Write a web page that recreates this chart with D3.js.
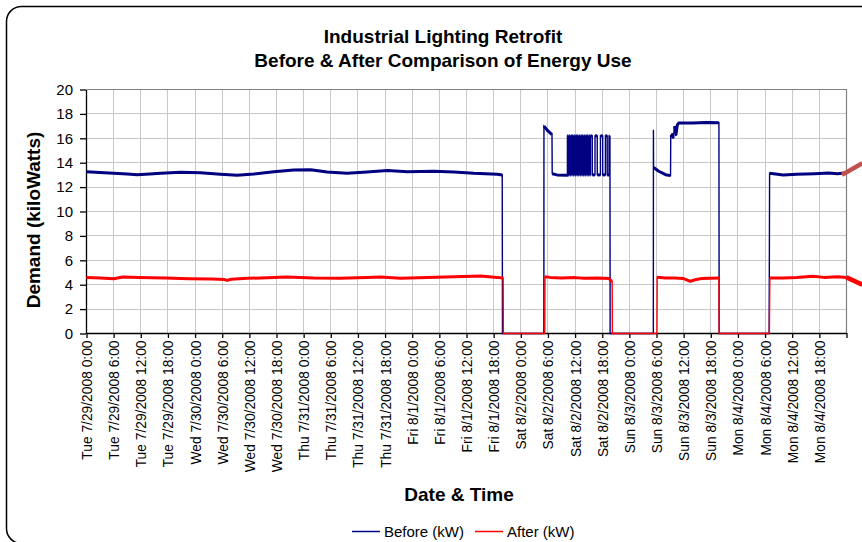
<!DOCTYPE html>
<html>
<head>
<meta charset="utf-8">
<script src="https://cdn.jsdelivr.net/npm/d3@7"></script>
<style>
  body { margin: 0; background: #fff; }
  svg { display: block; font-family: Arial, "Liberation Sans", sans-serif; }
</style>
</head>
<body>
<div id="chart"></div>
<script>
// hours are counted from Tue 7/29/2008 0:00, values in kW
var tickLabels = [
  "Tue 7/29/2008 0:00", "Tue 7/29/2008 6:00", "Tue 7/29/2008 12:00", "Tue 7/29/2008 18:00",
  "Wed 7/30/2008 0:00", "Wed 7/30/2008 6:00", "Wed 7/30/2008 12:00", "Wed 7/30/2008 18:00",
  "Thu 7/31/2008 0:00", "Thu 7/31/2008 6:00", "Thu 7/31/2008 12:00", "Thu 7/31/2008 18:00",
  "Fri 8/1/2008 0:00", "Fri 8/1/2008 6:00", "Fri 8/1/2008 12:00", "Fri 8/1/2008 18:00",
  "Sat 8/2/2008 0:00", "Sat 8/2/2008 6:00", "Sat 8/2/2008 12:00", "Sat 8/2/2008 18:00",
  "Sun 8/3/2008 0:00", "Sun 8/3/2008 6:00", "Sun 8/3/2008 12:00", "Sun 8/3/2008 18:00",
  "Mon 8/4/2008 0:00", "Mon 8/4/2008 6:00", "Mon 8/4/2008 12:00", "Mon 8/4/2008 18:00", ""
];
var tickHours = [0, 6, 12, 18, 24, 30, 36, 42, 48, 54, 60, 66, 72, 78, 84, 90, 96,
  102, 108, 114, 120, 126, 132, 138, 144, 150, 156, 162, 168];
var yTicks = [0, 2, 4, 6, 8, 10, 12, 14, 16, 18, 20];

var beforeWeekday = [
  [0, 13.26], [3, 13.2], [6, 13.13], [9, 13.08], [11.2, 13.02], [14, 13.08], [16.4, 13.13],
  [20.8, 13.21], [25.2, 13.18], [29.6, 13.05], [33.3, 12.97], [37, 13.07], [41.4, 13.26],
  [45.8, 13.4], [49.5, 13.43], [53.2, 13.24], [57.6, 13.13], [62, 13.24], [66.5, 13.37],
  [70.9, 13.26], [76.8, 13.29], [81.2, 13.24], [85.6, 13.13], [90.8, 13.05], [91.9, 13.0],
  [91.95, 0]
];
var beforeSat = [
  [101.1, 0], [101.12, 17.0], [102.0, 16.6], [102.9, 16.3], [102.95, 13.1], [104, 13.0],
  [106.3, 12.98]
];
// Saturday afternoon: load switching between two levels
var satToggles = [106.3, 106.5, 106.7, 106.85, 107.05, 107.25, 107.4, 107.6, 107.8, 107.95,
  108.15, 108.35, 108.5, 108.7, 108.9, 109.05, 109.25, 109.45, 109.6, 109.8, 110.0, 110.15,
  110.35, 110.55, 110.7, 110.9, 111.1, 111.25, 111.4, 111.8, 112.4, 112.9, 113.6, 114.1,
  114.7, 115.1, 115.5, 115.6, 115.7];
var satLevels = [13.0, 16.2];
var beforeSatEnd = [[115.75, 0]];
var beforeSun = [
  [125.3, 0], [125.32, 16.7], [125.35, 13.6], [126.5, 13.3], [128, 13.02], [129.1, 12.94],
  [129.15, 16.1], [129.5, 16.3], [129.7, 16.0], [130.0, 17.0], [130.3, 16.3], [130.6, 17.1],
  [130.9, 17.25], [134, 17.25], [137, 17.3], [139.8, 17.28], [139.85, 0]
];
var beforeMon = [
  [150.9, 0], [151, 13.13], [154, 13.0], [157, 13.05], [161, 13.1], [164, 13.15],
  [166, 13.1], [168, 13.18]
];
var afterData = [
  [0, 4.58], [3, 4.55], [6, 4.49], [8, 4.63], [11.6, 4.6], [14.5, 4.57], [17.5, 4.55],
  [22.6, 4.49], [27.8, 4.47], [30.5, 4.42], [31.1, 4.35], [32, 4.45], [35.5, 4.52],
  [41.4, 4.58], [44.3, 4.63], [50.2, 4.55], [56, 4.52], [62, 4.58], [65, 4.63], [69.4, 4.52],
  [75.3, 4.6], [81.2, 4.66], [87.1, 4.71], [90.8, 4.6], [92.1, 4.55], [92.15, 0],
  [101.3, 0], [101.35, 4.65], [102.5, 4.6], [105, 4.55], [108, 4.58], [110, 4.52],
  [113, 4.55], [115.5, 4.5], [116.0, 4.3], [116.2, 4.28], [116.25, 0],
  [126.1, 0], [126.15, 4.62], [128, 4.55], [130, 4.55], [132, 4.5], [133.5, 4.28],
  [134.5, 4.4], [136, 4.5], [139.8, 4.55], [139.85, 0],
  [150.95, 0], [151.05, 4.55], [154, 4.55], [157, 4.6], [160.5, 4.7], [163, 4.6],
  [166, 4.65], [168, 4.6]
];
// the lines run on past the right edge of the plot
var beforeTail = [[167, 13.0], [171.5, 13.95]];
var afterTail = [[168, 4.6], [171.5, 4.0]];

var width = 862, height = 542;
var svg = d3.select('#chart').append('svg')
    .attr('width', width)
    .attr('height', height);

// chart frame
svg.append('rect')
    .attr('x', 6.5).attr('y', 6.5)
    .attr('width', 900).attr('height', 537)
    .attr('rx', 15).attr('ry', 15)
    .attr('fill', '#fff')
    .attr('stroke', '#000')
    .attr('stroke-width', 1.5);

var x = d3.scaleLinear().domain([0, 168]).range([86.5, 846.5]);
var y = d3.scaleLinear().domain([0, 20]).range([333.5, 89.5]);
var snap = function(v) { return Math.round(v - 0.5) + 0.5; };

// grid
var grid = svg.append('g').attr('stroke', '#c8c8c8').attr('stroke-width', 1);
grid.selectAll('line.h').data(yTicks.slice(1, -1)).enter().append('line')
    .attr('x1', x(0)).attr('x2', x(168))
    .attr('y1', function(d) { return snap(y(d)); })
    .attr('y2', function(d) { return snap(y(d)); });
grid.selectAll('line.v').data(tickHours.slice(1, -1)).enter().append('line')
    .attr('y1', y(20)).attr('y2', y(0))
    .attr('x1', function(d) { return snap(x(d)); })
    .attr('x2', function(d) { return snap(x(d)); });

// grey plot border top and right
svg.append('path')
    .attr('d', 'M' + x(0) + ',' + y(20) + 'H' + x(168) + 'V' + y(0))
    .attr('fill', 'none')
    .attr('stroke', '#808080')
    .attr('stroke-width', 1.2);

// axes
var yAxis = svg.append('g')
    .attr('transform', 'translate(' + (x(0) - 0.5) + ',0)')
    .call(d3.axisLeft(y).tickValues(yTicks).tickSize(6).tickPadding(7).tickSizeOuter(0));
yAxis.selectAll('text').attr('font-size', 15).attr('fill', '#000');

var xAxis = svg.append('g')
    .attr('transform', 'translate(0,' + (y(0) - 0.5) + ')')
    .call(d3.axisBottom(x).tickValues(tickHours).tickSize(5).tickSizeOuter(0)
        .tickFormat(function(d, i) { return tickLabels[i]; }));
xAxis.selectAll('text')
    .attr('font-size', 13.8)
    .attr('fill', '#000')
    .attr('text-anchor', 'end')
    .attr('transform', 'rotate(-90)')
    .attr('x', -7.5)
    .attr('y', 0)
    .attr('dy', '0.36em');
svg.selectAll('.domain, .tick line').attr('stroke', '#000').attr('stroke-width', 1.3);

// build the Before series, the switching part comes from the toggle times
var beforeData = beforeWeekday.concat(beforeSat);
var level = 0;
satToggles.forEach(function(t) {
  beforeData.push([t, satLevels[level]]);
  level = 1 - level;
  beforeData.push([t + 0.01, satLevels[level]]);
});
beforeData = beforeData.concat(beforeSatEnd, beforeSun, beforeMon);

var line = d3.line()
    .x(function(d) { return x(d[0]); })
    .y(function(d) { return y(d[1]); });

// thin line for the whole series, heavier where the load is steady (noisy readings)
function drawSeries(data, color) {
  svg.append('path')
      .attr('d', line(data))
      .attr('fill', 'none')
      .attr('stroke', color)
      .attr('stroke-width', 1.4);
  var runs = [], cur = null;
  for (var i = 1; i < data.length; i++) {
    var a = data[i - 1], b = data[i];
    var steady = a[1] > 0.5 && b[1] > 0.5 && Math.abs(a[1] - b[1]) < 0.9;
    if (steady) {
      if (!cur) { cur = [a]; runs.push(cur); }
      cur.push(b);
    } else {
      cur = null;
    }
  }
  svg.append('g').selectAll('path').data(runs).enter().append('path')
      .attr('d', line)
      .attr('fill', 'none')
      .attr('stroke', color)
      .attr('stroke-width', 3)
      .attr('stroke-linejoin', 'round');
}
drawSeries(beforeData, '#000080');
drawSeries(afterData, '#ff0000');

svg.append('path').attr('d', line(beforeTail))
    .attr('fill', 'none').attr('stroke', '#c0504d').attr('stroke-width', 4.5);
svg.append('path').attr('d', line(afterTail))
    .attr('fill', 'none').attr('stroke', '#ff0000').attr('stroke-width', 4.5);

// titles
var titles = svg.append('g')
    .attr('font-weight', 'bold')
    .attr('font-size', '19px')
    .attr('text-anchor', 'middle')
    .attr('fill', '#000');

titles.append('text').attr('x', 443).attr('y', 43).text('Industrial Lighting Retrofit');
titles.append('text').attr('x', 443).attr('y', 67).text('Before & After Comparison of Energy Use');
titles.append('text').attr('x', 459).attr('y', 501).text('Date & Time');
titles.append('text')
    .attr('transform', 'translate(40,220) rotate(-90)')
    .text('Demand (kiloWatts)');

// legend
var legend = svg.append('g').attr('font-size', '15px').attr('fill', '#000');
var legendItems = [
  { name: 'Before (kW)', color: '#000080', x: 352 },
  { name: 'After (kW)', color: '#ff0000', x: 475 }
];
legendItems.forEach(function(d) {
  legend.append('line')
      .attr('x1', d.x).attr('x2', d.x + 28)
      .attr('y1', 531.5).attr('y2', 531.5)
      .attr('stroke', d.color)
      .attr('stroke-width', 1.5);
  legend.append('text')
      .attr('x', d.x + 32)
      .attr('y', 536.5)
      .text(d.name);
});
</script>
</body>
</html>
